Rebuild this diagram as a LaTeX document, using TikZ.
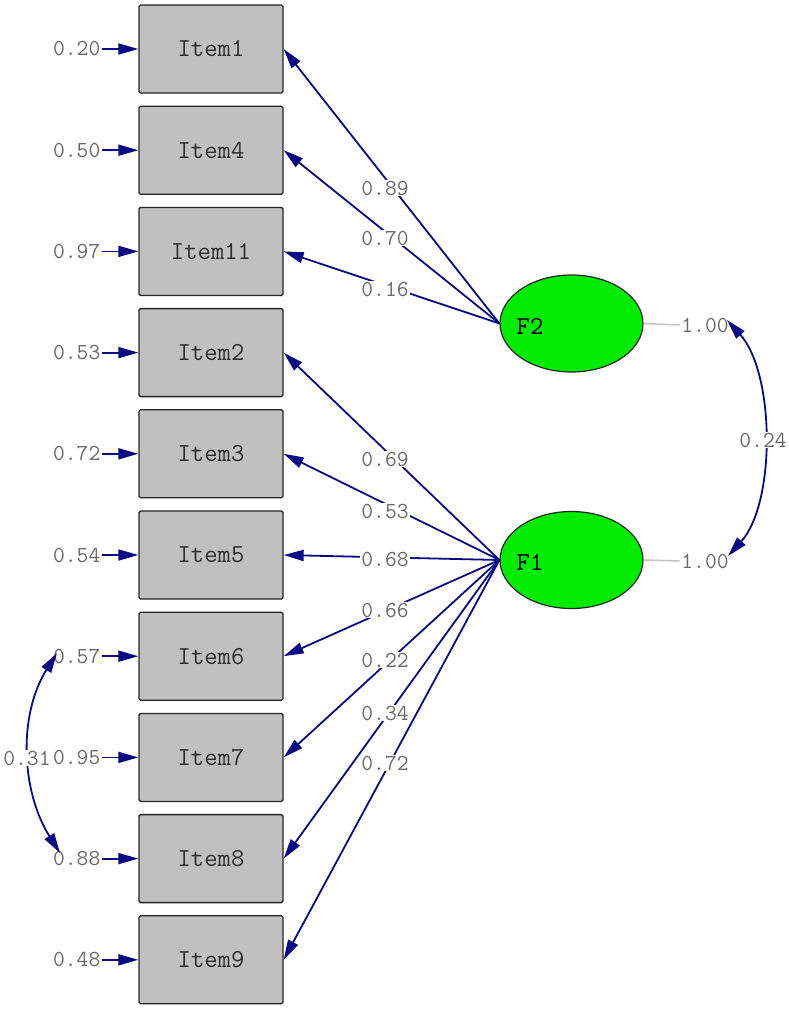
\documentclass[tikz,border=0pt]{standalone}
\usepackage{fontspec}
\usetikzlibrary{arrows.meta,shapes.geometric}
\definecolor{navy}{RGB}{10,10,130}
\definecolor{boxgray}{RGB}{192,192,192}
\definecolor{lime}{RGB}{0,235,0}
\definecolor{numgray}{RGB}{105,105,105}
\definecolor{itemtext}{RGB}{45,45,45}
\definecolor{lightline}{RGB}{195,195,195}
\tikzset{
  itembox/.style={draw=black!85, line width=1.3pt, fill=boxgray, minimum width=144pt, minimum height=88pt,
    rounded corners=1.5pt, font=\ttfamily\fontsize{25.9}{28}\selectfont, text=itemtext, inner sep=0pt},
  latent/.style={ellipse, draw=black!85, line width=1.2pt, fill=lime, minimum width=143pt, minimum height=97pt, inner sep=0pt},
  lattext/.style={font=\ttfamily\fontsize{25.9}{28}\selectfont, text=black, inner sep=0pt},
  num/.style={font=\ttfamily\fontsize{22.9}{24}\selectfont, text=numgray, inner sep=1.5pt},
  lab/.style={num, fill=white, inner sep=1pt},
  tip/.tip={Triangle[length=20pt,width=11pt]},
  load/.style={draw=navy, line width=1.8pt, -tip},
  corr/.style={draw=navy, line width=1.8pt, tip-tip},
  varline/.style={draw=lightline, line width=1.5pt}
}
\begin{document}
\begin{tikzpicture}[x=1pt,y=-1pt]
\fill[white] (0,0) rectangle (789,1010);
\useasboundingbox (0,0) rectangle (789,1010);
% item boxes
\node[itembox] (i1)  at (211,49)    {Item1};
\node[itembox] (i4)  at (211,150.2) {Item4};
\node[itembox] (i11) at (211,251.4) {Item11};
\node[itembox] (i2)  at (211,352.6) {Item2};
\node[itembox] (i3)  at (211,453.8) {Item3};
\node[itembox] (i5)  at (211,555)   {Item5};
\node[itembox] (i6)  at (211,656.2) {Item6};
\node[itembox] (i7)  at (211,757.4) {Item7};
\node[itembox] (i8)  at (211,858.6) {Item8};
\node[itembox] (i9)  at (211,959.8) {Item9};
% error variances
\node[num,anchor=east] (e1)  at (102,49)    {0.20};
\node[num,anchor=east] (e4)  at (102,150.2) {0.50};
\node[num,anchor=east] (e11) at (102,251.4) {0.97};
\node[num,anchor=east] (e2)  at (102,352.6) {0.53};
\node[num,anchor=east] (e3)  at (102,453.8) {0.72};
\node[num,anchor=east] (e5)  at (102,555)   {0.54};
\node[num,anchor=east] (e6)  at (102,656.2) {0.57};
\node[num,anchor=east] (e8)  at (102,858.6) {0.88};
\node[num,anchor=east] (e9)  at (102,959.8) {0.48};
\foreach \k in {1,4,11,2,3,5,6,8,9} {\draw[load] (e\k) -- (i\k);}
% error covariance Item6-Item8
\coordinate (a6) at (57,653);
\coordinate (a8) at (60,853);
\draw[corr] (a6) .. controls (18,715) and (21,791) .. (a8);
\node[lab] (r68) at (27,758) {0.31};
\node[num,anchor=east] (e7)  at (102,757.4) {0.95};
\draw[load] (e7) -- (i7);
% latent variables
\node[latent] (F2) at (571.5,323.5) {};
\node[latent] (F1) at (571.5,560) {};
\node[lattext] (t2) at (530,326) {F2};
\node[lattext] (t1) at (530,562) {F1};
% loadings F2
\draw[load] (F2.west) -- (i1.east);  \node[lab] (l1)  at (385,188) {0.89};
\draw[load] (F2.west) -- (i4.east);  \node[lab] (l4)  at (385,238) {0.70};
\draw[load] (F2.west) -- (i11.east); \node[lab] (l11) at (385,289) {0.16};
% loadings F1
\draw[load] (F1.west) -- (i2.east);  \node[lab] (l2) at (385,459) {0.69};
\draw[load] (F1.west) -- (i3.east);  \node[lab] (l3) at (385,511) {0.53};
\draw[load] (F1.west) -- (i5.east);  \node[lab] (l5) at (385,559) {0.68};
\draw[load] (F1.west) -- (i6.east);  \node[lab] (l6) at (385,610) {0.66};
\draw[load] (F1.west) -- (i7.east);  \node[lab] (l7) at (385,660) {0.22};
\draw[load] (F1.west) -- (i8.east);  \node[lab] (l8) at (385,713) {0.34};
\draw[load] (F1.west) -- (i9.east);  \node[lab] (l9) at (385,763) {0.72};
% latent variances and covariance
\node[num] (v2) at (705,325) {1.00};
\node[num] (v1) at (705,561) {1.00};
\draw[varline] (F2.east) -- (v2.west);
\draw[varline] (F1.east) -- (v1.west);
\coordinate (c2) at (727,320);
\coordinate (c1) at (728,556);
\draw[corr] (c2) .. controls (775,373) and (776,503) .. (c1);
\node[lab] (r12) at (763,440) {0.24};
\end{tikzpicture}
\end{document}
